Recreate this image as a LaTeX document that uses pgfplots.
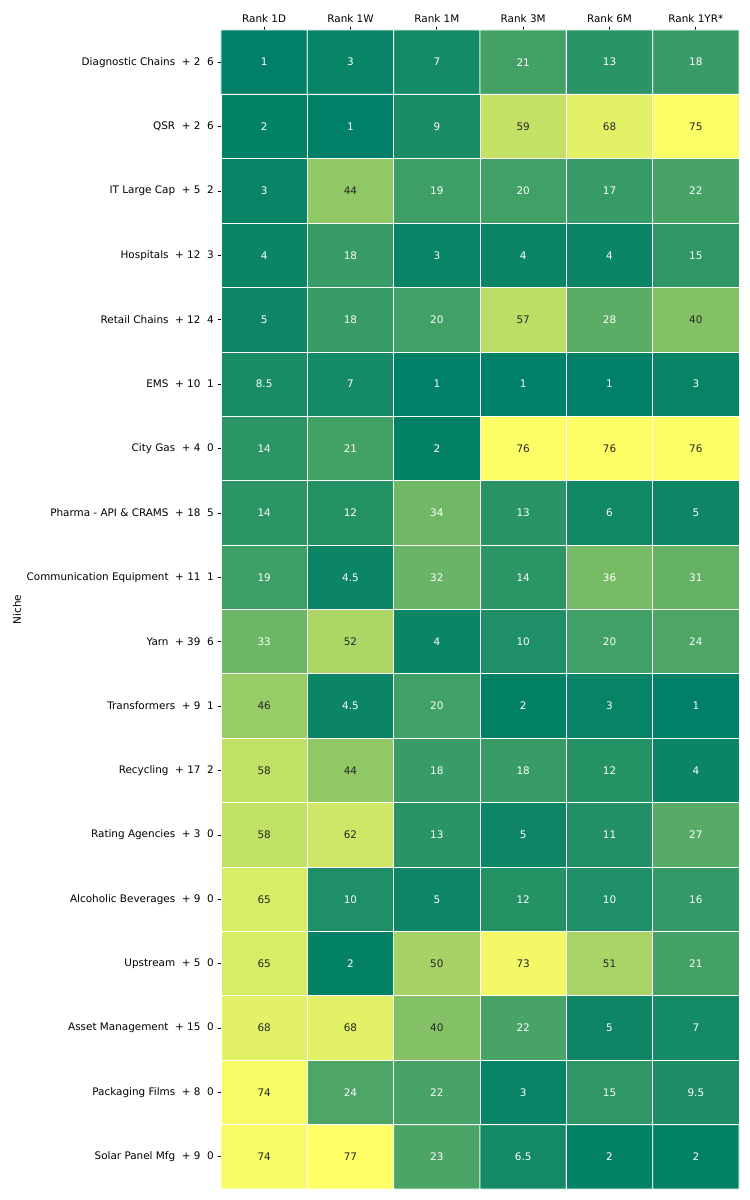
\documentclass[border=0pt]{standalone}
\usepackage{fontspec}
\setmainfont{DejaVu Sans}
\usepackage{pgfplots}
\pgfplotsset{compat=1.18}
\usepgfplotslibrary{colormaps}

\pgfplotstableread{
x y v
0 0 1
1 0 3
2 0 7
3 0 21
4 0 13
5 0 18
0 1 2
1 1 1
2 1 9
3 1 59
4 1 68
5 1 75
0 2 3
1 2 44
2 2 19
3 2 20
4 2 17
5 2 22
0 3 4
1 3 18
2 3 3
3 3 4
4 3 4
5 3 15
0 4 5
1 4 18
2 4 20
3 4 57
4 4 28
5 4 40
0 5 8.5
1 5 7
2 5 1
3 5 1
4 5 1
5 5 3
0 6 14
1 6 21
2 6 2
3 6 76
4 6 76
5 6 76
0 7 14
1 7 12
2 7 34
3 7 13
4 7 6
5 7 5
0 8 19
1 8 4.5
2 8 32
3 8 14
4 8 36
5 8 31
0 9 33
1 9 52
2 9 4
3 9 10
4 9 20
5 9 24
0 10 46
1 10 4.5
2 10 20
3 10 2
4 10 3
5 10 1
0 11 58
1 11 44
2 11 18
3 11 18
4 11 12
5 11 4
0 12 58
1 12 62
2 12 13
3 12 5
4 12 11
5 12 27
0 13 65
1 13 10
2 13 5
3 13 12
4 13 10
5 13 16
0 14 65
1 14 2
2 14 50
3 14 73
4 14 51
5 14 21
0 15 68
1 15 68
2 15 40
3 15 22
4 15 5
5 15 7
0 16 74
1 16 24
2 16 22
3 16 3
4 16 15
5 16 9.5
0 17 74
1 17 77
2 17 23
3 17 6.5
4 17 2
5 17 2
}\heat

\begin{document}
\begin{tikzpicture}
\path[use as bounding box] (0,0) rectangle (540pt,864pt);
\begin{axis}[
    at={(159.1pt,7.9pt)}, anchor=south west,
    scale only axis,
    width=373pt, height=834.5pt,
    xmin=-0.5, xmax=5.5,
    ymin=-0.5, ymax=17.5,
    y dir=reverse,
    enlargelimits=false,
    axis line style={draw=none},
    tick align=outside,
    major tick length=2.5pt,
    major tick style={black, line width=0.55pt},
    xtick={0,...,5},
    xticklabels={Rank 1D,Rank 1W,Rank 1M,Rank 3M,Rank 6M,Rank 1YR*},
    xtick pos=right, xticklabel pos=right,
    ytick={0,...,17},
    yticklabels={
      Diagnostic Chains\ \ + 2\ \ 6,
      QSR\ \ + 2\ \ 6,
      IT Large Cap\ \ + 5\ \ 2,
      Hospitals\ \ + 12\ \ 3,
      Retail Chains\ \ + 12\ \ 4,
      EMS\ \ + 10\ \ 1,
      City Gas\ \ + 4\ \ 0,
      Pharma - API \& CRAMS\ \ + 18\ \ 5,
      Communication Equipment\ \ + 11\ \ 1,
      Yarn\ \ + 39\ \ 6,
      Transformers\ \ + 9\ \ 1,
      Recycling\ \ + 17\ \ 2,
      Rating Agencies\ \ + 3\ \ 0,
      Alcoholic Beverages\ \ + 9\ \ 0,
      Upstream\ \ + 5\ \ 0,
      Asset Management\ \ + 15\ \ 0,
      Packaging Films\ \ + 8\ \ 0,
      Solar Panel Mfg\ \ + 9\ \ 0},
    ytick pos=left, yticklabel pos=left,
    xticklabel style={inner sep=0pt, yshift=2.5pt},
    yticklabel style={inner sep=0pt, xshift=-2.5pt},
    ylabel={Niche},
    every axis y label/.style={at={(axis description cs:0,0.5)},
      xshift=-146.9pt, rotate=90, anchor=center},
    tick label style={font=\fontsize{7.5}{9}\selectfont},
    label style={font=\fontsize{7.5}{9}\selectfont},
    colormap={summer}{rgb=(0,0.5,0.4) rgb=(1,1,0.4)},
    point meta min=1, point meta max=77,
    /pgf/number format/assume math mode=true,
    nodes near coords={\pgfmathprintnumber{\pgfplotspointmeta}},
    every node near coord/.style={anchor=center, font=\fontsize{7.5}{9}\selectfont},
]
\addplot[matrix plot*, mesh/cols=6, point meta=explicit,
    draw=white, line width=0.6pt, nodes near coords={}]
    table[x=x, y=y, meta=v] {\heat};
% light text on dark cells
\addplot[only marks, mark=none, point meta=explicit,
    restrict expr to domain={\thisrow{v}}{0:38},
    every node near coord/.append style={text=white}]
    table[x=x, y=y, meta=v] {\heat};
% dark text on light cells
\addplot[only marks, mark=none, point meta=explicit,
    restrict expr to domain={\thisrow{v}}{38:100},
    every node near coord/.append style={text=black!85}]
    table[x=x, y=y, meta=v] {\heat};
\end{axis}
\end{tikzpicture}
\end{document}
